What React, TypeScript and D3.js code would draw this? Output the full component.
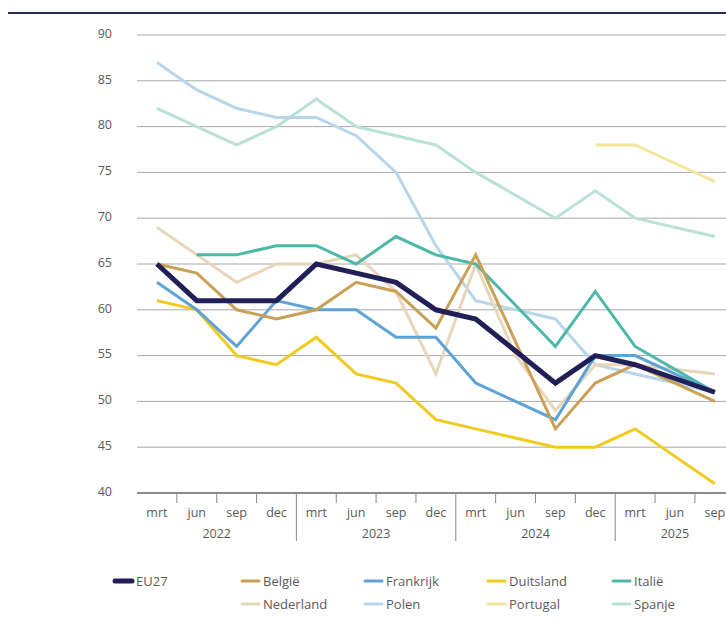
import React from "react";
import * as d3 from "d3";

const quarters = ["mrt", "jun", "sep", "dec", "mrt", "jun", "sep", "dec", "mrt", "jun", "sep", "dec", "mrt", "jun", "sep"];
const years = ["2022", "2023", "2024", "2025"];
const yearOf = [0, 0, 0, 0, 1, 1, 1, 1, 2, 2, 2, 2, 3, 3, 3];
const yTicks = [40, 45, 50, 55, 60, 65, 70, 75, 80, 85, 90];

type V = number | null;
const eu27: V[] = [65, 61, 61, 61, 65, 64, 63, 60, 59, 55.5, 52, 55, 54, 52.5, 51];
const belgie: V[] = [65, 64, 60, 59, 60, 63, 62, 58, 66, 56.5, 47, 52, 54, 52, 50];
const frankrijk: V[] = [63, 60, 56, 61, 60, 60, 57, 57, 52, 50, 48, 55, 55, 53, 51];
const duitsland: V[] = [61, 60, 55, 54, 57, 53, 52, 48, 47, 46, 45, 45, 47, 44, 41];
const italie: V[] = [null, 66, 66, 67, 67, 65, 68, 66, 65, 60.5, 56, 62, 56, 53.5, 51];
const nederland: V[] = [69, 66, 63, 65, 65, 66, 62, 53, 65, 55, 49, 54, 54, 53.5, 53];
const polen: V[] = [87, 84, 82, 81, 81, 79, 75, 67, 61, 60, 59, 54, 53, 52, 51];
const portugal: V[] = [null, null, null, null, null, null, null, null, null, null, null, 78, 78, 76, 74];
const spanje: V[] = [82, 80, 78, 80, 83, 80, 79, 78, 75, 72.5, 70, 73, 70, 69, 68];

const seriesNames = ["EU27", "België", "Frankrijk", "Duitsland", "Italië", "Nederland", "Polen", "Portugal", "Spanje"];
const seriesValues = [eu27, belgie, frankrijk, duitsland, italie, nederland, polen, portugal, spanje];
const seriesColors = ["#211f57", "#c9a055", "#5fa3d5", "#f0cb1e", "#4cb8a8", "#e7d6ba", "#b7d6ea", "#f4e59c", "#b9e1d8"];
const seriesWidths = [5, 3, 3, 3, 3, 3, 3, 3, 3];

const FONT = "'Open Sans', Lato, sans-serif";
const TXT = "#5a5a5a";

export default function App() {
  const W = 726, H = 625;
  const idx = quarters.map((_, i) => i);
  const x = d3.scaleBand<number>().domain(idx).range([137, 137 + 39.85 * 15]).padding(0);
  const cx = (i: number) => (x(i) as number) + x.bandwidth() / 2;
  const y = d3.scaleLinear().domain([40, 90]).range([493, 35]);

  const line = d3
    .line<V>()
    .defined((d) => d !== null)
    .x((_, i) => cx(i))
    .y((d) => y(d as number));

  const drawOrder = [8, 7, 6, 5, 4, 3, 2, 1, 0];

  const yearGroups = years.map((yr, k) => {
    const ids = idx.filter((i) => yearOf[i] === k);
    const start = x(ids[0]) as number;
    const end = (x(ids[ids.length - 1]) as number) + x.bandwidth();
    return { yr, start, end, mid: (start + end) / 2 };
  });

  const legendCols = [115, 242, 365, 488, 613];
  const legendRows = [581, 604];

  return (
    <svg width={W} height={H} style={{ position: "absolute", left: 0, top: 0, background: "#fff" }} fontFamily={FONT}>
      <line x1={8} x2={W} y1={13} y2={13} stroke="#2a2b5c" strokeWidth={2} />
      {yTicks.map((t) => (
        <g key={t}>
          {t !== 40 && <line x1={137} x2={W} y1={y(t)} y2={y(t)} stroke="#a8a8a8" strokeWidth={1} />}
          <text x={112} y={y(t)} dy="-0.05em" textAnchor="end" fontSize={12.5} fill={TXT} dominantBaseline="middle">
            {t}
          </text>
        </g>
      ))}
      <line x1={137} x2={W} y1={y(40)} y2={y(40)} stroke="#666" strokeWidth={1.5} />
      {idx.slice(1).map((i) => {
        const xx = x(i) as number;
        const isYear = yearOf[i] !== yearOf[i - 1];
        return <line key={i} x1={xx} x2={xx} y1={y(40)} y2={isYear ? 541 : 503} stroke="#888" strokeWidth={1} />;
      })}
      {quarters.map((q, i) => (
        <text key={i} x={cx(i)} y={517} textAnchor="middle" fontSize={12.5} fill={TXT}>
          {q}
        </text>
      ))}
      {yearGroups.map((g) => (
        <text key={g.yr} x={g.mid} y={538} textAnchor="middle" fontSize={12.5} fill={TXT}>
          {g.yr}
        </text>
      ))}
      {drawOrder.map((s) => (
        <path
          key={s}
          d={line(seriesValues[s]) || ""}
          fill="none"
          stroke={seriesColors[s]}
          strokeWidth={seriesWidths[s]}
          strokeLinejoin="miter"
        />
      ))}
      {seriesNames.map((n, s) => {
        const col = s < 5 ? s : s - 5 + 1;
        const row = s < 5 ? 0 : 1;
        const lx = legendCols[col];
        const ly = legendRows[row];
        return (
          <g key={n}>
            <line
              x1={lx}
              x2={lx + 17}
              y1={ly}
              y2={ly}
              stroke={seriesColors[s]}
              strokeWidth={s === 0 ? 5 : 3}
              strokeLinecap="round"
            />
            <text x={lx + 21} y={ly} dy="0.35em" fontSize={13} fill={TXT}>
              {n}
            </text>
          </g>
        );
      })}
    </svg>
  );
}
